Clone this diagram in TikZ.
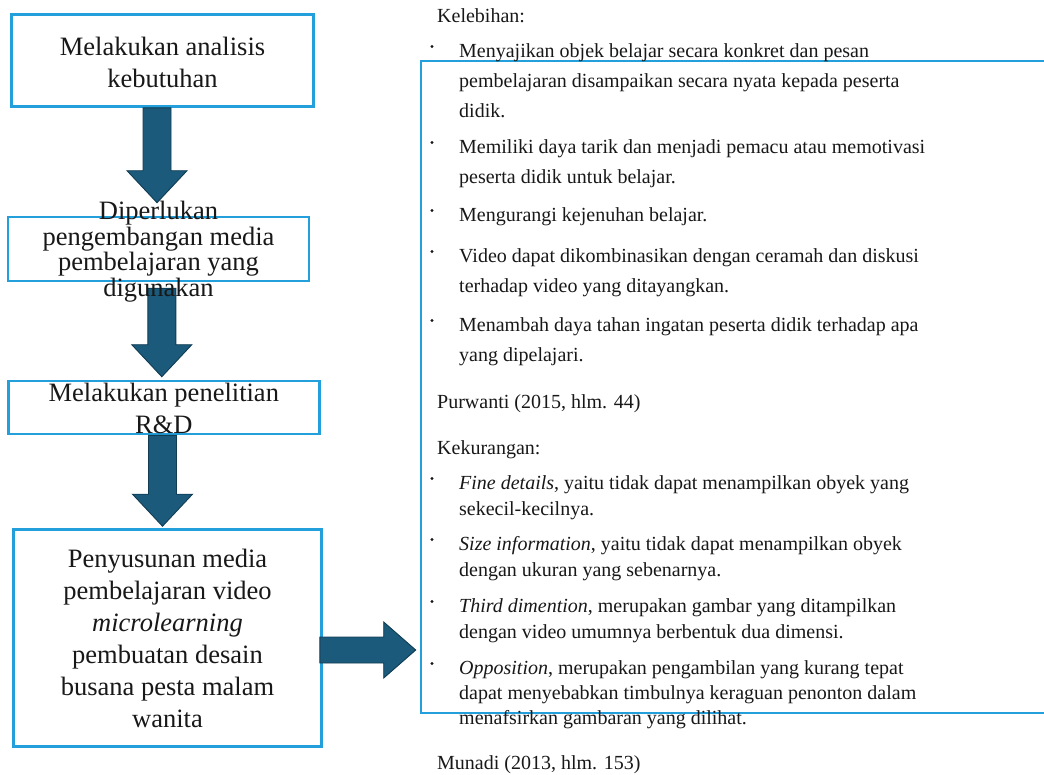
\documentclass[tikz,border=0pt]{standalone}
\usepackage{fontspec}
\setmainfont{Liberation Serif}
\usetikzlibrary{calc}

\definecolor{boxblue}{RGB}{35,160,219}
\definecolor{arrowfill}{RGB}{27,90,122}
\definecolor{arrowline}{RGB}{16,60,84}
\definecolor{inktext}{RGB}{24,24,24}

\begin{document}
\begin{tikzpicture}[x=1pt, y=-1pt,
    stepbox/.style={draw=boxblue, line width=2.6pt, fill=white, inner sep=0pt},
    steptext/.style={align=center, inner sep=0pt, text=inktext, font=\fontsize{26.5}{32}\selectfont},
    blockarrow/.style={fill=arrowfill, draw=arrowline, line width=0.9pt, line join=miter},
    listtext/.style={anchor=north west, align=left, inner sep=0pt, text=inktext, font=\fontsize{20}{30}\selectfont}]
\useasboundingbox (0,0) rectangle (1044,774);

% Boxes
\node[stepbox, minimum width=302, minimum height=92] (analisis) at (162.5,60.5) {};
\node[stepbox, minimum width=301, minimum height=64] (perlu) at (158.5,249) {};
\node[stepbox, minimum width=311, minimum height=53] (riset) at (163.8,407.5) {};
\node[stepbox, minimum width=308, minimum height=217] (susun) at (167.5,638) {};
\node[stepbox, minimum width=640, minimum height=652] (info) at (741,387) {};

% Arrows
\draw[blockarrow] let \p1=(analisis.south), \p2=($(perlu.north)+(-1.5,-13)$) in
  (\x2-14,\y1) -- (\x2+14,\y1) -- (\x2+14,\y2+32) -- (\x2+30,\y2+32) -- (\x2,\y2) -- (\x2-30,\y2+32) -- (\x2-14,\y2+32) -- cycle;
\draw[blockarrow] let \p1=($(perlu.south)+(0,6)$), \p2=($(riset.north)+(-2,-3)$) in
  (\x2-14,\y1) -- (\x2+14,\y1) -- (\x2+14,\y2+32) -- (\x2+30,\y2+32) -- (\x2,\y2) -- (\x2-30,\y2+32) -- (\x2-14,\y2+32) -- cycle;
\draw[blockarrow] let \p1=(riset.south), \p2=($(susun.north)+(-5,-2)$) in
  (\x2-14,\y1) -- (\x2+14,\y1) -- (\x2+14,\y2+32) -- (\x2+30,\y2+32) -- (\x2,\y2) -- (\x2-30,\y2+32) -- (\x2-14,\y2+32) -- cycle;
\draw[blockarrow] let \p1=(susun.east), \p2=($(info.west)+(-4,0)$) in
  (\x1-3,\y1+1) -- (\x2-32,\y1+1) -- (\x2-32,\y1+16) -- (\x2,\y1-12) -- (\x2-32,\y1-40) -- (\x2-32,\y1-25) -- (\x1-3,\y1-25) -- cycle;

% Box texts
\node[steptext] (analisisT) at ($(analisis)+(0,2)$) {Melakukan analisis\\kebutuhan};
\node[steptext, font=\fontsize{26.5}{25.5}\selectfont] (perluT) at ($(perlu)+(0,2.5)$) {Diperlukan\\pengembangan media\\pembelajaran yang\\digunakan};
\node[steptext] (risetT) at ($(riset)+(0,1)$) {Melakukan penelitian\\R\&D};
\node[steptext] (susunT) at (susun) {Penyusunan media\\pembelajaran video\\\textit{microlearning}\\pembuatan desain\\busana pesta malam\\wanita};

% Kelebihan
\node[listtext] (lebih) at (437,8) {Kelebihan:};
\node[listtext] (adv1) at (459,43) {Menyajikan objek belajar secara konkret dan pesan\\pembelajaran disampaikan secara nyata kepada peserta\\didik.};
\node[listtext] (adv2) at (459,139) {Memiliki daya tarik dan menjadi pemacu atau memotivasi\\peserta didik untuk belajar.};
\node[listtext] (adv3) at (459,207) {Mengurangi kejenuhan belajar.};
\node[listtext] (adv4) at (459,248) {Video dapat dikombinasikan dengan ceramah dan diskusi\\terhadap video yang ditayangkan.};
\node[listtext] (adv5) at (459,317) {Menambah daya tahan ingatan peserta didik terhadap apa\\yang dipelajari.};
\node[listtext] (purwanti) at (437,394) {Purwanti (2015, hlm. 44)};

% Kekurangan
\node[listtext] (kurang) at (437,440) {Kekurangan:};
\node[listtext, font=\fontsize{20}{26.5}\selectfont] (dis1) at (459,475) {\textit{Fine details}, yaitu tidak dapat menampilkan obyek yang\\sekecil-kecilnya.};
\node[listtext, font=\fontsize{20}{26.5}\selectfont] (dis2) at (459,536) {\textit{Size information}, yaitu tidak dapat menampilkan obyek\\dengan ukuran yang sebenarnya.};
\node[listtext, font=\fontsize{20}{26.5}\selectfont] (dis3) at (459,598) {\textit{Third dimention}, merupakan gambar yang ditampilkan\\dengan video umumnya berbentuk dua dimensi.};
\node[listtext, font=\fontsize{20}{25}\selectfont] (dis4) at (459,660) {\textit{Opposition}, merupakan pengambilan yang kurang tepat\\dapat menyebabkan timbulnya keraguan penonton dalam\\menafsirkan gambaran yang dilihat.};
\node[listtext] (munadi) at (437,755.5) {Munadi (2013, hlm. 153)};

% Bullets
\foreach \n in {adv1,adv2,adv3,adv4,adv5,dis1,dis2,dis3,dis4}
  \fill[inktext] ($(\n.north west)+(-27,3.5)$) circle (1.6);
\end{tikzpicture}
\end{document}
